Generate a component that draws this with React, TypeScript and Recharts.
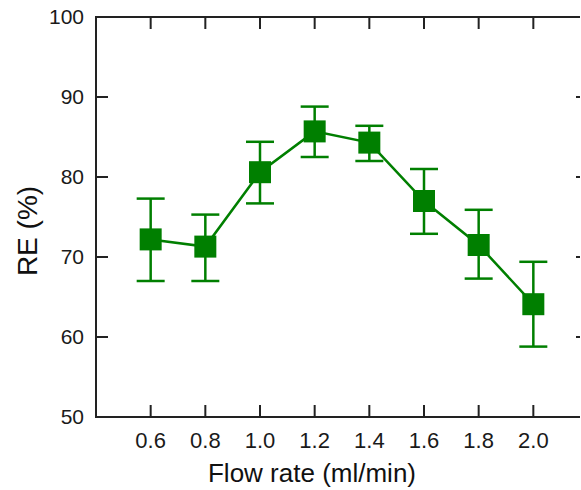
import React from 'react';
import { LineChart, Line, XAxis, YAxis, ErrorBar, ReferenceArea } from 'recharts';

const flowRates = [0.6, 0.8, 1.0, 1.2, 1.4, 1.6, 1.8, 2.0];
const reValues = [72.2, 71.3, 80.6, 85.7, 84.3, 77.0, 71.5, 64.1];
const errLow = [5.2, 4.3, 3.9, 3.2, 2.3, 4.1, 4.2, 5.3];
const errHigh = [5.1, 4.0, 3.8, 3.1, 2.1, 4.0, 4.4, 5.3];
const xTicks = [0.6, 0.8, 1.0, 1.2, 1.4, 1.6, 1.8, 2.0];
const yTicks = [50, 60, 70, 80, 90, 100];

const data = flowRates.map((x, i) => ({
  x,
  re: reValues[i],
  err: [errLow[i], errHigh[i]],
}));

const GREEN = '#007f00';
const FONT = '"Liberation Sans", Arial, sans-serif';
const TICK_LEN = 12;
const INK = '#222222';

const SquareDot = (props: any) => {
  const { cx, cy, index } = props;
  if (cx == null || cy == null) return null;
  const s = 22;
  return <rect key={`sq-${index}`} x={cx - s / 2} y={cy - s / 2} width={s} height={s} fill={GREEN} />;
};

const BottomTick = (props: any) => {
  const x = Number(props.x);
  const y = Number(props.y);
  const axisY = y - 15;
  return (
    <g>
      <rect x={x - 1} y={axisY - TICK_LEN} width={2} height={TICK_LEN} fill={INK} />
      <text x={x} y={y} dy="0.71em" textAnchor="middle" fill="#1a1a1a" fontSize={22} fontFamily={FONT}>
        {Number(props.payload.value).toFixed(1)}
      </text>
    </g>
  );
};

const LeftTick = (props: any) => {
  const x = Number(props.x);
  const y = Number(props.y);
  const axisX = x + 12;
  return (
    <g>
      <rect x={axisX} y={y - 1} width={TICK_LEN} height={2} fill={INK} />
      <text x={x} y={y} dy="0.355em" textAnchor="end" fill="#1a1a1a" fontSize={21} fontFamily={FONT}>
        {props.payload.value}
      </text>
    </g>
  );
};

const TopTick = (props: any) => {
  const x = Number(props.x);
  const y = Number(props.y);
  return <rect x={x - 1} y={y} width={2} height={TICK_LEN} fill={INK} />;
};

const RightTick = (props: any) => {
  const x = Number(props.x);
  const y = Number(props.y);
  return <rect x={x - TICK_LEN} y={y - 1} width={TICK_LEN} height={2} fill={INK} />;
};

export default function App() {
  const axisLine = { stroke: INK, strokeWidth: 2 };
  const xDomain: [number, number] = [0.4, 2.2];
  const yDomain: [number, number] = [50, 100];
  return (
    <div style={{ position: 'fixed', left: 0, top: 0, width: 581, height: 490, overflow: 'hidden', background: '#fff' }}>
      <LineChart width={580} height={490} data={data} margin={{ top: 15, right: -10, left: 0, bottom: 0 }}>
        <XAxis
          xAxisId="bottom"
          dataKey="x"
          type="number"
          domain={xDomain}
          ticks={xTicks}
          axisLine={axisLine}
          tickLine={false}
          tickSize={0}
          tickMargin={15}
          tick={<BottomTick />}
          height={73}
          interval={0}
          label={{ value: 'Flow rate (ml/min)', position: 'insideBottom', offset: 8, dx: -30, style: { fill: '#111', fontSize: 26, fontFamily: FONT } }}
        />
        <XAxis
          xAxisId="top"
          orientation="top"
          dataKey="x"
          type="number"
          domain={xDomain}
          ticks={xTicks}
          axisLine={axisLine}
          tickLine={false}
          tickSize={0}
          tickMargin={0}
          tick={<TopTick />}
          height={2}
          interval={0}
        />
        <YAxis
          yAxisId="left"
          type="number"
          domain={yDomain}
          ticks={yTicks}
          axisLine={axisLine}
          tickLine={false}
          tickSize={0}
          tickMargin={12}
          tick={<LeftTick />}
          width={96}
          interval={0}
          label={{ value: 'RE (%)', angle: -90, position: 'insideLeft', offset: 27, dy: 14, style: { textAnchor: 'middle', fill: '#111', fontSize: 28, fontFamily: FONT } }}
        />
        <YAxis
          yAxisId="right"
          orientation="right"
          type="number"
          domain={yDomain}
          ticks={yTicks}
          axisLine={axisLine}
          tickLine={false}
          tickSize={0}
          tickMargin={0}
          tick={<RightTick />}
          width={2}
          interval={0}
        />
        <ReferenceArea
          xAxisId="bottom"
          yAxisId="left"
          x1={xDomain[0]}
          x2={xDomain[1]}
          y1={yDomain[0]}
          y2={yDomain[1]}
          fill="none"
          fillOpacity={0}
          stroke={INK}
          strokeWidth={2}
          ifOverflow="visible"
        />
        <Line
          xAxisId="top"
          yAxisId="right"
          dataKey="re"
          stroke="none"
          dot={false}
          activeDot={false}
          legendType="none"
          isAnimationActive={false}
        />
        <Line
          xAxisId="bottom"
          yAxisId="left"
          dataKey="re"
          stroke={GREEN}
          strokeWidth={2.5}
          dot={SquareDot}
          activeDot={false}
          isAnimationActive={false}
        >
          <ErrorBar dataKey="err" direction="y" width={14} stroke={GREEN} strokeWidth={2.5} isAnimationActive={false} />
        </Line>
      </LineChart>
    </div>
  );
}
